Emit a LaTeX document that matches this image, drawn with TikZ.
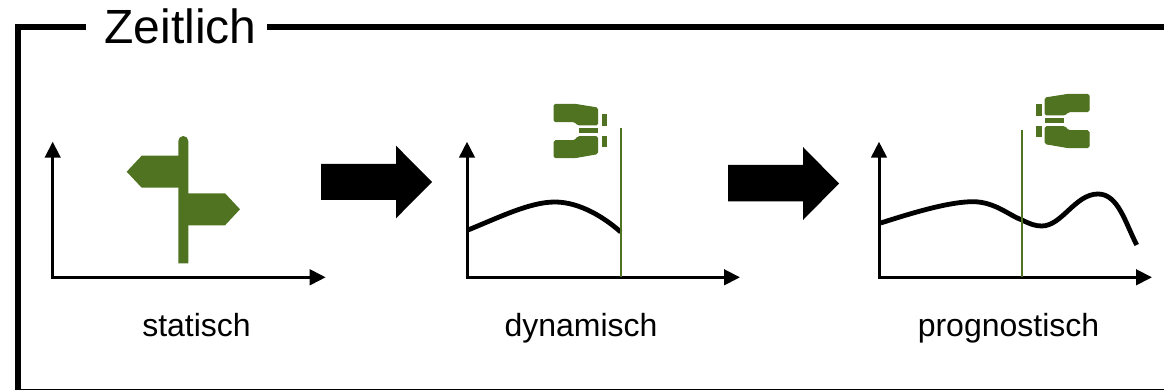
\documentclass[tikz,border=0pt]{standalone}
\usepackage{fontspec}
\setmainfont{Liberation Sans}
\usetikzlibrary{arrows.meta}
\definecolor{leaf}{HTML}{4F7320}
\tikzset{
  axis/.style={line width=3pt,draw=black,{Triangle[length=16pt,width=15.5pt]}-{Triangle[length=16pt,width=15.5pt]}},
  frameline/.style={line width=5.8pt,draw=black},
  curveline/.style={line width=4.8pt,draw=black},
  marker/.style={line width=2.1pt,draw=leaf},
  leafshape/.style={fill=leaf,draw=none},
  lensshape/.style={fill=leaf,draw=leaf,line width=1pt,rounded corners=1.6pt},
  blockarrow/.style={fill=black,draw=none},
  caption/.style={font=\fontsize{32pt}{36pt}\selectfont,anchor=base,inner sep=0pt},
  headline/.style={font=\fontsize{48pt}{54pt}\selectfont,anchor=base,inner sep=0pt}
}
\begin{document}
\begin{tikzpicture}[x=1pt,y=-1pt]
\useasboundingbox (0,0) rectangle (1164,390);
% frame
\coordinate (f1) at (86,27);
\coordinate (f2) at (17.7,27);
\coordinate (f3) at (17.7,390);
\coordinate (f4) at (267,27);
\coordinate (f5) at (1164,27);
\coordinate (f6) at (15,389.3);
\coordinate (f7) at (1164,389.3);
\draw[frameline] (f1) -- (f2) -- (f3);
\draw[frameline] (f4) -- (f5);
\draw[line width=1.4pt] (f6) -- (f7);
\node[headline] (title) at (180.5,44) {Zeitlich};
% axes
\foreach \n/\ox in {a/52.7,b/467,c/879}{
  \coordinate (\n o) at (\ox,277.3);
  \coordinate (\n y) at (\ox,141.7);
  \coordinate (\n x) at (\ox+273,277.3);
  \draw[axis] (\n y) -- (\n o) -- (\n x);
}
% signpost
\fill[leafshape] (183,155.7) -- (141.7,155.7) -- (126.7,171.7) -- (141.7,187.7) -- (183,187.7) -- cycle;
\fill[leafshape] (183,193.3) -- (225,193.3) -- (240,209.3) -- (225,225.3) -- (183,225.3) -- cycle;
\fill[leafshape] (178.3,263.3) -- (178.3,141) arc[start angle=180,end angle=360,radius=5] -- (188.3,263.3) -- cycle;
% block arrows
\fill[blockarrow] (321,164) -- (396,164) -- (396,145.7) -- (432,182) -- (396,218.3) -- (396,200) -- (321,200) -- cycle;
\fill[blockarrow] (728,165) -- (803,165) -- (803,147) -- (839,183.5) -- (803,220) -- (803,201.5) -- (728,201.5) -- cycle;
% curves
\coordinate (c1s) at (468,230);
\coordinate (c1e) at (620.7,232);
\draw[curveline] (c1s) .. controls (500,217) and (530,202) .. (555,202) .. controls (580,202) and (605,218) .. (c1e);
\coordinate (c3s) at (880.7,223);
\coordinate (c3e) at (1136.7,245);
\draw[curveline] (c3s) .. controls (915,212) and (950,201.7) .. (973,201.7) .. controls (995,201.7) and (1010,216) .. (1022,220) .. controls (1030,224) and (1035,226) .. (1041.7,226) .. controls (1062,226) and (1075,194) .. (1098,194) .. controls (1118,194) and (1125,222) .. (c3e);
% marker lines
\coordinate (m1t) at (620.7,128);
\coordinate (m1b) at (620.7,277);
\coordinate (m2t) at (1022.3,130);
\coordinate (m2b) at (1022.3,277);
\draw[marker] (m1t) -- (m1b);
\draw[marker] (m2t) -- (m2b);
% binoculars 1
\begin{scope}[shift={(530,90)},x=0.3333pt,y=-0.3333pt]
  \filldraw[lensshape] (72,43) -- (135,43) -- (203,54) -- (203,105) -- (143,105) -- (135,95) -- (72,95) -- cycle;
  \filldraw[lensshape] (72,152) -- (135,152) -- (143,140) -- (203,140) -- (203,191) -- (135,203) -- (72,203) -- cycle;
  \fill[leafshape] (215,73) rectangle (232,107);
  \fill[leafshape] (215,138) rectangle (232,172);
  \fill[leafshape] (147,115) rectangle (203,130);
\end{scope}
% binoculars 2
\begin{scope}[shift={(1010,80)},x=0.3333pt,y=-0.3333pt]
  \filldraw[lensshape] (237,43) -- (175,43) -- (105,54) -- (105,105) -- (165,105) -- (175,95) -- (237,95) -- cycle;
  \filldraw[lensshape] (237,152) -- (175,152) -- (165,140) -- (105,140) -- (105,191) -- (175,203) -- (237,203) -- cycle;
  \fill[leafshape] (77,73) rectangle (95,107);
  \fill[leafshape] (77,138) rectangle (95,172);
  \fill[leafshape] (105,115) rectangle (162,130);
\end{scope}
% captions
\node[caption] (l1) at (196.5,336) {statisch};
\node[caption] (l2) at (581,336) {dynamisch};
\node[caption] (l3) at (1008.5,336) {prognostisch};
\end{tikzpicture}
\end{document}
